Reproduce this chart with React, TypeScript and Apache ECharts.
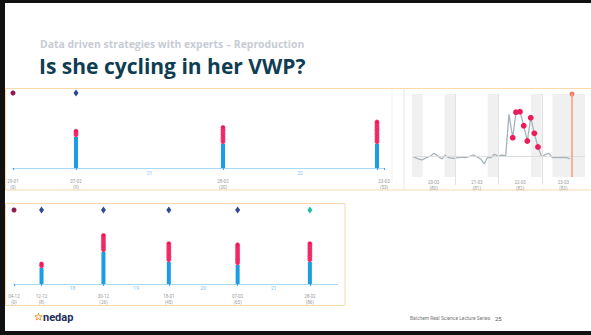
import { useEffect, useRef } from "react";
import * as echarts from "echarts";

// ---- Current lactation (top timeline), day 0 = calving ----
const topDays = [0, 9, 30, 52];
const topDates = ["29-01", "07-02", "28-02", "22-03"];
const topActivity = [0, 31, 24, 24]; // blue column height
const topHeatDots = [0, 3, 9, 12]; // red dots stacked on the column
const topMarkers = ["calving", "insemination", "", ""];
const topEndDay = 53;
const topEndDate = "23-03";

// ---- Previous lactation (bottom timeline) ----
const bottomDays = [0, 8, 26, 45, 65, 86];
const bottomDates = ["04-12", "12-12", "30-12", "18-01", "07-02", "28-02"];
const bottomActivity = [0, 16, 32, 22, 19, 22];
const bottomHeatDots = [0, 2, 9, 10, 11, 10];
const bottomMarkers = ["calving", "insemination", "insemination", "insemination", "insemination", "pregnant"];
const bottomEndDay = 94;

// ---- Activity curve around the last heat (hours from 20-03 00:00) ----
const curveHours = [0.7, 3.5, 5.4, 8.1, 10.4, 12.2, 13.7, 15.5, 16.8, 18.3, 20.2, 22.9, 25.7, 27.6, 29.4, 32.2, 34, 35.9, 38.1, 40.1, 41.8, 43.7, 45.7, 47.9, 49.8, 52, 53.8, 55.9, 57.7, 59.9, 62, 64, 65.9, 67.9, 69.9, 72, 74.2, 76, 77.9, 82.1, 85.8, 87.7];
const curveValues = [24.5, 21.7, 20.5, 23.3, 25.3, 28.5, 26.5, 23.3, 21.7, 26.5, 23.3, 22.5, 23.3, 24.1, 23.3, 24.9, 26.5, 24.5, 21.7, 15.7, 23.3, 23.3, 27.3, 25.3, 26.5, 25.3, 75.5, 47.4, 78, 78.7, 61.8, 43.4, 71.5, 52.6, 36.1, 24.5, 27.3, 28.5, 23.3, 23.3, 23.3, 21.7];
const curveInHeat = [false, false, false, false, false, false, false, false, false, false, false, false, false, false, false, false, false, false, false, false, false, false, false, false, false, false, false, true, true, true, true, true, true, true, true, false, false, false, false, false, false, false];
const curveBaseline = 24.5;
const curveDayStarts = [0, 24, 48, 72];
const curveDayDates = ["20-03", "21-03", "22-03", "23-03"];
const curveDayNumbers = [80, 81, 82, 83];
const curveShaded: [number, number][] = [[0, 6], [18, 24], [42, 48], [66, 72], [77.9, 96]];
const curveNowHour = 88.8;

const BLUE = "#1b9de4";
const RED = "#f0165b";
const AXIS_BLUE = "#a9d7f6";
const TICK_BLUE = "#4da5e3";
const LABEL_GREY = "#9a9a9a";
const DOT_STEP = 1.8;
const DOT_R = 2.2;
const BAR_W = 4;

const markerStyle: Record<string, { symbol: string; size: number | number[]; color: string }> = {
  calving: { symbol: "circle", size: 5, color: "#8e1b4d" },
  insemination: { symbol: "diamond", size: [5, 7], color: "#2b4a98" },
  pregnant: { symbol: "diamond", size: [5, 7], color: "#1dbf9f" },
};

const renderColumn = (_params: any, api: any) => {
  const day = api.value(0);
  const act = api.value(1);
  const dots = api.value(2);
  if (act <= 0 && dots <= 0) return null;
  const base = api.coord([day, 0]);
  const top = api.coord([day, act]);
  const children: any[] = [
    {
      type: "rect",
      shape: { x: base[0] - BAR_W / 2, y: top[1], width: BAR_W, height: base[1] - top[1] },
      style: { fill: BLUE },
    },
  ];
  for (let i = 0; i < dots; i++) {
    const c = api.coord([day, act + DOT_R + i * DOT_STEP]);
    children.push({
      type: "circle",
      shape: { cx: c[0], cy: c[1], r: DOT_R },
      style: { fill: RED, stroke: "#f86a92", lineWidth: 0.4 },
    });
  }
  return { type: "group", children };
};

// Heat points on the activity curve, drawn as filled dots
const renderHeatPoint = (_params: any, api: any) => {
  const p = api.coord([api.value(0), api.value(1)]);
  return { type: "circle", shape: { cx: p[0], cy: p[1], r: 2.9 }, style: { fill: "#ec1c5a" } };
};

const makeGapRenderer = (axisOffset: number) => (_params: any, api: any) => {
  const p = api.coord([api.value(0), 0]);
  return {
    type: "text",
    x: p[0],
    y: p[1] + axisOffset - 1,
    style: { text: String(api.value(1)), fill: "#86c3ee", fontSize: 5, fontFamily: "Roboto", align: "center", verticalAlign: "bottom" },
  };
};

function gapData(days: number[], markers: string[]) {
  const heatDays = days.filter((_, i) => markers[i] !== "calving");
  const out: number[][] = [];
  for (let i = 1; i < heatDays.length; i++) {
    out.push([(heatDays[i] + heatDays[i - 1]) / 2, heatDays[i] - heatDays[i - 1]]);
  }
  return out;
}

function timelineSeries(gridIndex: number, days: number[], activity: number[], dots: number[], markers: string[], markerLevel: number, axisOffset: number) {
  return [
    {
      type: "custom",
      xAxisIndex: gridIndex,
      yAxisIndex: gridIndex,
      renderItem: renderColumn,
      encode: { x: 0, y: 1 },
      data: days.map((d, i) => [d, activity[i], dots[i]]),
      silent: true,
    },
    {
      type: "custom",
      xAxisIndex: gridIndex,
      yAxisIndex: gridIndex,
      renderItem: makeGapRenderer(axisOffset),
      encode: { x: 0 },
      data: gapData(days, markers),
      silent: true,
    },
    {
      type: "scatter",
      xAxisIndex: gridIndex,
      yAxisIndex: gridIndex,
      silent: true,
      data: days
        .map((d, i) => ({ d, m: markers[i] }))
        .filter((o) => o.m)
        .map((o) => ({
          value: [o.d, markerLevel],
          symbol: markerStyle[o.m].symbol,
          symbolSize: markerStyle[o.m].size,
          itemStyle: { color: markerStyle[o.m].color, opacity: 1 },
        })),
    },
  ];
}

function timelineAxis(gridIndex: number, max: number, tickDays: number[], labelDays: number[], labelText: Record<number, string>, offset: number) {
  return {
    type: "value",
    gridIndex,
    min: 0,
    max,
    offset,
    axisLine: { show: true, lineStyle: { color: AXIS_BLUE, width: 1.2 } },
    axisTick: { show: true, customValues: tickDays, length: 2, lineStyle: { color: TICK_BLUE, width: 1.2 } },
    axisLabel: {
      show: true,
      customValues: labelDays,
      formatter: (v: number) => labelText[v] ?? "",
      color: LABEL_GREY,
      fontSize: 4.5,
      lineHeight: 6.5,
      margin: 2,
      fontFamily: "Roboto",
    },
    splitLine: { show: false },
  };
}

function starPoints(cx: number, cy: number, ro: number, ri: number) {
  const pts: number[][] = [];
  for (let i = 0; i < 10; i++) {
    const r = i % 2 === 0 ? ro : ri;
    const a = -Math.PI / 2 + (i * Math.PI) / 5;
    pts.push([cx + r * Math.cos(a), cy + r * Math.sin(a)]);
  }
  return pts;
}

export default function App() {
  const ref = useRef<HTMLDivElement>(null);

  useEffect(() => {
    if (!ref.current) return;
    const chart = echarts.init(ref.current, undefined, { renderer: "svg" });

    const topLabels: Record<number, string> = {};
    topDays.forEach((d, i) => {
      if (i < topDays.length - 1) topLabels[d] = `${topDates[i]}\n(${d})`;
    });
    topLabels[topEndDay] = `${topEndDate}\n(${topEndDay})`;
    const topLabelDays = [...topDays.slice(0, -1), topEndDay];

    const bottomLabels: Record<number, string> = {};
    bottomDays.forEach((d, i) => (bottomLabels[d] = `${bottomDates[i]}\n(${d})`));

    const curveLabels: Record<number, string> = {};
    const curveLabelHours = curveDayStarts.map((h) => h + 12);
    curveLabelHours.forEach((h, i) => (curveLabels[h] = `${curveDayDates[i]}\n(${curveDayNumbers[i]})`));

    const option: any = {
      animation: false,
      backgroundColor: "#ffffff",
      grid: [
        { left: 13, top: 90, width: 371, height: 78 },
        { left: 14, top: 206, width: 323.4, height: 78 },
        { left: 412, top: 94, width: 173, height: 83 },
      ],
      xAxis: [
        timelineAxis(0, topEndDay, [...topDays, topEndDay], topLabelDays, topLabels, 8),
        timelineAxis(1, bottomEndDay, bottomDays, bottomDays, bottomLabels, 7),
        {
          type: "value",
          gridIndex: 2,
          min: 0,
          max: 96,
          axisLine: { show: false },
          axisTick: { show: true, customValues: curveDayStarts.slice(1), length: 8, lineStyle: { color: "#e2e2e2" } },
          axisLabel: {
            customValues: curveLabelHours,
            formatter: (v: number) => curveLabels[v] ?? "",
            color: LABEL_GREY,
            fontSize: 4.5,
            lineHeight: 6,
            margin: 2,
            fontFamily: "Roboto",
          },
          splitLine: { show: false },
        },
      ],
      yAxis: [
        { type: "value", gridIndex: 0, min: 0, max: 78, show: false, splitLine: { show: false } },
        { type: "value", gridIndex: 1, min: 0, max: 78, show: false, splitLine: { show: false } },
        { type: "value", gridIndex: 2, min: 0, max: 100, show: false, splitLine: { show: false } },
      ],
      series: [
        ...timelineSeries(0, topDays, topActivity, topHeatDots, topMarkers, 75, 8),
        ...timelineSeries(1, bottomDays, bottomActivity, bottomHeatDots, bottomMarkers, 74, 7),
        {
          type: "line",
          xAxisIndex: 2,
          yAxisIndex: 2,
          data: curveHours.map((h, i) => [h, curveValues[i]]),
          symbol: "none",
          lineStyle: { color: "#a6b3ba", width: 1.3 },
          silent: true,
          markArea: {
            silent: true,
            itemStyle: { color: "#f0f0f0" },
            data: curveShaded.map(([a, b]) => [{ xAxis: a }, { xAxis: b }]),
          },
          markLine: {
            silent: true,
            symbol: ["none", "none"],
            label: { show: false },
            data: [
              ...curveDayStarts.slice(1).map((h) => ({ xAxis: h, lineStyle: { color: "#e2e2e2", width: 1, type: "solid" } })),
              { yAxis: curveBaseline, lineStyle: { color: "#dedede", width: 1, type: "solid" } },
              { xAxis: curveNowHour, lineStyle: { color: "#f7a085", width: 1.6, type: "solid" } },
            ],
          },
        },
        {
          type: "custom",
          xAxisIndex: 2,
          yAxisIndex: 2,
          silent: true,
          z: 5,
          renderItem: renderHeatPoint,
          encode: { x: 0, y: 1 },
          data: curveHours.map((h, i) => [h, curveValues[i]]).filter((_, i) => curveInHeat[i]),
        },
        {
          type: "scatter",
          xAxisIndex: 2,
          yAxisIndex: 2,
          silent: true,
          symbol: "circle",
          symbolSize: 5,
          itemStyle: { color: "#f47a63", opacity: 1 },
          data: [[curveNowHour, 100]],
        },
      ],
      graphic: [
        // slide frame
        { type: "rect", shape: { x: 0, y: 0, width: 5, height: 335 }, style: { fill: "#111" }, silent: true },
        { type: "rect", shape: { x: 0, y: 0, width: 591, height: 3 }, style: { fill: "#111" }, silent: true },
        { type: "rect", shape: { x: 0, y: 331, width: 591, height: 4 }, style: { fill: "#111" }, silent: true },
        // headings
        {
          type: "text",
          x: 40,
          y: 43.5,
          style: { text: "Data driven strategies with experts – Reproduction", fill: "#c7ccd4", fontSize: 10.4, fontWeight: 700, fontFamily: "Open Sans", verticalAlign: "middle" },
        },
        {
          type: "text",
          x: 39,
          y: 66,
          style: { text: "Is she cycling in her VWP?", fill: "#0f3d52", fontSize: 21, fontWeight: 700, fontFamily: "Open Sans", verticalAlign: "middle" },
        },
        // panel borders
        { type: "rect", z: -1, shape: { x: 5.5, y: 88.5, width: 600, height: 101.5 }, style: { fill: "none", stroke: "#fbd9ab", lineWidth: 1 }, silent: true },
        { type: "line", shape: { x1: 392, y1: 89, x2: 392, y2: 182 }, style: { stroke: "#f1f1f1", lineWidth: 1 }, silent: true },
        { type: "line", shape: { x1: 404, y1: 89, x2: 404, y2: 190 }, style: { stroke: "#e6e6e6", lineWidth: 1 }, silent: true },
        { type: "rect", z: -1, shape: { x: 5.5, y: 203.5, width: 339.5, height: 102 }, style: { fill: "none", stroke: "#fbd9ab", lineWidth: 1 }, silent: true },
        // footer
        { type: "polygon", shape: { points: starPoints(38.5, 317, 3.8, 1.6) }, style: { fill: "none", stroke: "#f08a24", lineWidth: 0.9 }, silent: true },
        {
          type: "text",
          x: 43,
          y: 317.5,
          style: { text: "nedap", fill: "#1d2d5c", fontSize: 11, fontWeight: 700, fontFamily: "Roboto", verticalAlign: "middle" },
        },
        {
          type: "text",
          x: 410,
          y: 318,
          style: { text: "Balchem Real Science Lecture Series", fill: "#777", fontSize: 4.9, fontFamily: "Roboto", verticalAlign: "middle" },
        },
        {
          type: "text",
          x: 495,
          y: 318,
          style: { text: "25", fill: "#555", fontSize: 6, fontFamily: "Roboto", verticalAlign: "middle" },
        },
      ],
    };

    chart.setOption(option);
    return () => chart.dispose();
  }, []);

  return <div ref={ref} style={{ position: "absolute", left: 0, top: 0, width: 591, height: 335, background: "#fff" }} />;
}
